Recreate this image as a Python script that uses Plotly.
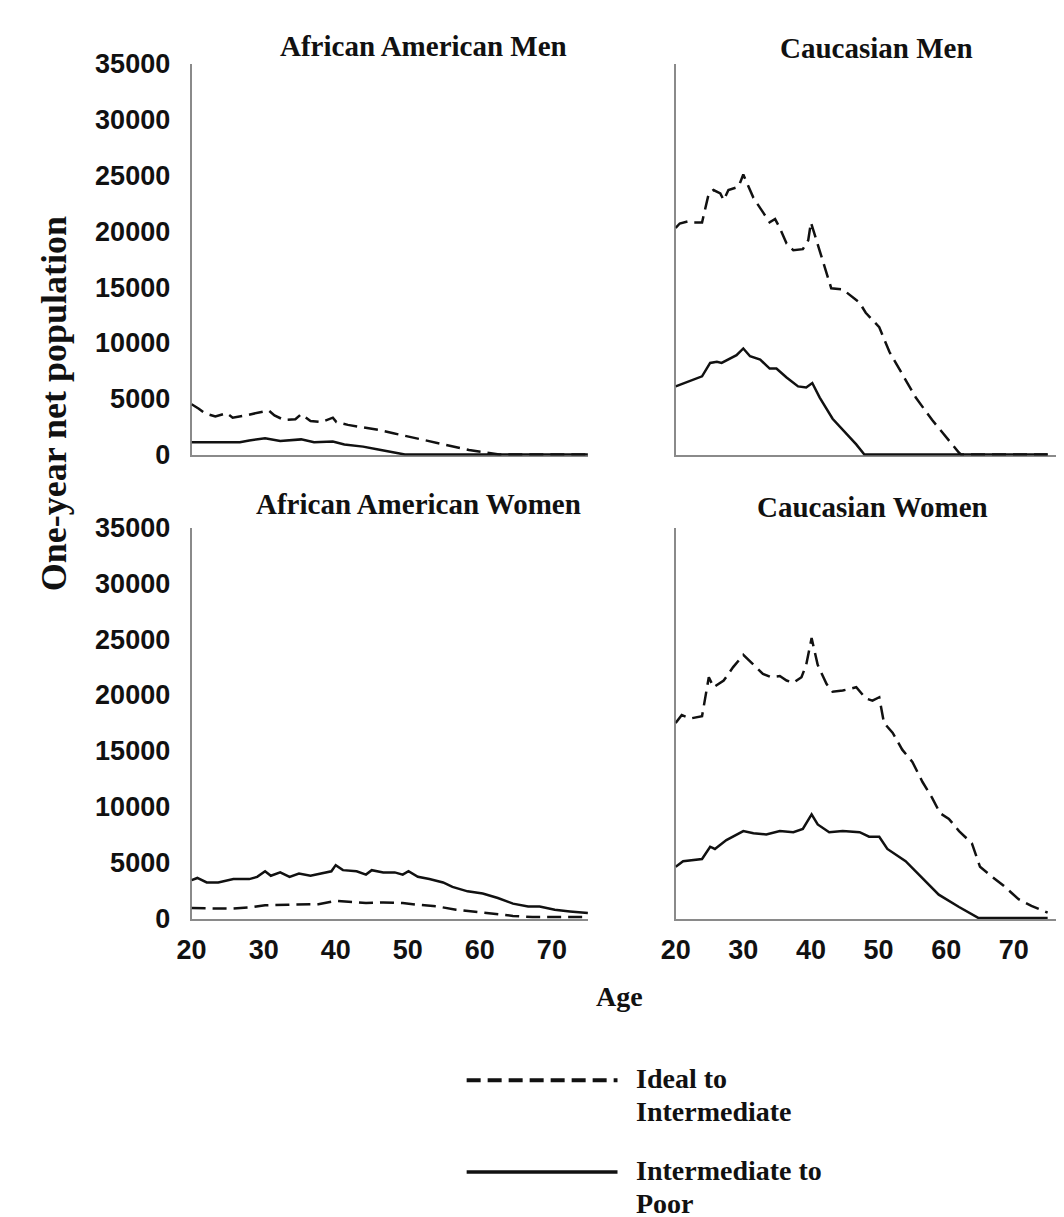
import plotly.graph_objects as go

W, H = 1064, 1217

# ---------------- data (ages, one-year net population) ----------------
aam_ideal_age = [20, 21, 21.8, 23.3, 24.9, 25.7, 27.5, 29.1, 30.7, 31.5, 32.8, 34.4, 35.2, 36.5, 38.0, 39.6, 40.1,
                 41.7, 43.8, 45.9, 48.0, 50.1, 52.2, 54.3, 56.4, 58.5, 60.6, 62.7, 75]
aam_ideal_val = [4500, 4100, 3700, 3400, 3700, 3300, 3500, 3700, 3950, 3500, 3100, 3150, 3600, 3000, 2900, 3300, 2900,
                 2650, 2450, 2200, 1900, 1600, 1300, 1050, 750, 400, 200, 0, 0]
aam_poor_age = [20, 26.7, 28.0, 30.2, 32.3, 35.2, 37.0, 39.6, 41.2, 43.8, 45.9, 48.5, 49.6, 75]
aam_poor_val = [1100, 1100, 1250, 1450, 1200, 1350, 1100, 1150, 900, 700, 450, 100, 0, 0]

cm_ideal_age = [20, 20.6, 21.9, 22.6, 23.9, 24.9, 25.6, 26.6, 27.1, 27.8, 29.3, 30, 30.7, 31.5, 32.7, 33.9, 34.7,
                35.4, 36.4, 37.4, 38.8, 39.6, 40.0, 40.8, 41.8, 43.0, 44.7, 47.2, 48.1, 49.6, 50.1, 51.6, 53.5,
                55.5, 57.9, 59.9, 61.9, 62.2, 75]
cm_ideal_val = [20300, 20700, 20900, 20800, 20800, 23400, 23700, 23400, 22800, 23700, 24000, 25100, 24100, 23000,
                21900, 20800, 21100, 20300, 18900, 18300, 18400, 19200, 20800, 19200, 17100, 14900, 14800, 13600,
                12700, 11700, 11400, 9200, 7200, 5100, 3100, 1600, 150, 0, 0]
cm_poor_age = [20, 22.2, 23.9, 25.1, 26.1, 26.8, 27.8, 29.0, 30, 31, 32.5, 33.9, 34.9, 36.4, 38.1, 39.3, 40.2,
               41.3, 43.2, 45.2, 46.7, 47.9, 75]
cm_poor_val = [6100, 6600, 7000, 8200, 8300, 8200, 8500, 8900, 9500, 8800, 8500, 7700, 7700, 6900, 6100, 6000,
               6400, 5100, 3200, 1900, 900, 0, 0]

aaw_ideal_age = [20, 25.3, 28.0, 30.2, 33.4, 37.6, 40.0, 42.4, 44.2, 46.6, 49.3, 51.4, 54.1, 56.7, 59.4, 62.0,
                 64.6, 67.3, 75]
aaw_ideal_val = [900, 850, 950, 1150, 1200, 1250, 1550, 1400, 1350, 1400, 1350, 1200, 1050, 750, 550, 400, 200,
                 100, 100]
aaw_poor_age = [20, 20.8, 22.1, 23.7, 25.8, 28.0, 29.1, 30.2, 31.0, 32.3, 33.6, 34.9, 36.5, 38.6, 39.4, 40.0,
                41.0, 42.9, 44.2, 45.0, 46.6, 48.2, 49.3, 50.1, 51.4, 53.0, 54.9, 56.2, 58.3, 60.4, 62.5, 64.6,
                66.7, 68.3, 70.4, 72.5, 75]
aaw_poor_val = [3400, 3600, 3200, 3200, 3500, 3500, 3700, 4200, 3800, 4100, 3700, 4000, 3800, 4100, 4200, 4750,
                4300, 4200, 3900, 4300, 4100, 4100, 3900, 4200, 3700, 3500, 3200, 2800, 2400, 2200, 1800, 1300,
                1050, 1050, 750, 600, 450]

cw_ideal_age = [20, 20.9, 22.2, 23.9, 24.9, 25.6, 27.1, 28.5, 30, 31.5, 32.9, 34.1, 35.4, 36.4, 37.4, 38.6, 39.3,
                40.1, 41.0, 42.3, 43.2, 44.7, 46.7, 48.1, 49.1, 50.1, 50.8, 52.1, 53.5, 55.0, 56.5, 57.9, 59.1,
                60.4, 61.9, 63.8, 65.0, 66.8, 68.5, 70.7, 72.6, 75]
cw_ideal_val = [17500, 18200, 17900, 18100, 21600, 20700, 21300, 22500, 23600, 22700, 21900, 21600, 21700, 21300,
                21100, 21600, 22700, 25100, 22700, 21000, 20300, 20400, 20700, 19700, 19500, 19800, 17500, 16600,
                15100, 14000, 12200, 10800, 9400, 8900, 7800, 6700, 4600, 3700, 2900, 1700, 1100, 500]
cw_poor_age = [20, 21.1, 23.9, 25.1, 25.8, 27.5, 30, 31.5, 33.4, 35.4, 37.4, 38.8, 40.1, 41.0, 42.7, 44.7, 47.2,
               48.6, 50.1, 51.3, 54.0, 56.5, 58.9, 61.9, 64.8, 75]
cw_poor_val = [4600, 5100, 5300, 6400, 6200, 7000, 7800, 7600, 7500, 7800, 7700, 8000, 9300, 8400, 7700, 7800,
               7700, 7300, 7300, 6200, 5100, 3600, 2100, 1000, 0, 0]

panel_titles = ["African American Men", "Caucasian Men", "African American Women", "Caucasian Women"]
y_ticks = [0, 5000, 10000, 15000, 20000, 25000, 30000, 35000]
x_ticks = [20, 30, 40, 50, 60, 70]
legend_lines = [["Ideal to", "Intermediate"], ["Intermediate to", "Poor"]]

# ---------------- figure ----------------
fig = go.Figure()
LINE_COLOR = "#111111"
DASH = "14px,7px"

panels = [
    ("x", "y", aam_ideal_age, aam_ideal_val, aam_poor_age, aam_poor_val),
    ("x2", "y2", cm_ideal_age, cm_ideal_val, cm_poor_age, cm_poor_val),
    ("x3", "y3", aaw_ideal_age, aaw_ideal_val, aaw_poor_age, aaw_poor_val),
    ("x4", "y4", cw_ideal_age, cw_ideal_val, cw_poor_age, cw_poor_val),
]
for xa, ya, ia, iv, pa, pv in panels:
    fig.add_trace(go.Scatter(x=ia, y=iv, xaxis=xa, yaxis=ya, mode="lines", showlegend=False,
                             name="Ideal to Intermediate",
                             line=dict(color=LINE_COLOR, width=2.5, dash=DASH)))
    fig.add_trace(go.Scatter(x=pa, y=pv, xaxis=xa, yaxis=ya, mode="lines", showlegend=False,
                             name="Intermediate to Poor",
                             line=dict(color=LINE_COLOR, width=2.5)))

def px_x(p):
    return p / W

def px_y(p):
    return 1 - p / H

tick_font = dict(family="Liberation Sans, Arial", size=27, color="#111111", weight="bold")
AXCOL = "#8a8a8a"

left_dom = [px_x(171), px_x(573)]
right_dom = [px_x(662), 1.0]
top_dom = [px_y(443), px_y(42)]
bot_dom = [px_y(918), px_y(517)]
yr = [-90, 35000]

common_x = dict(showline=True, linecolor=AXCOL, linewidth=2, showgrid=False, zeroline=False,
                ticks="", layer="below traces", tickfont=tick_font, tickvals=x_ticks,
                ticklabelstandoff=5)
common_y = dict(showline=True, linecolor=AXCOL, linewidth=2, showgrid=False, zeroline=False,
                ticks="", layer="below traces", tickfont=tick_font, tickvals=y_ticks, range=yr,
                tickformat="d", ticklabelstandoff=14)

fig.update_layout(
    width=W, height=H,
    margin=dict(l=0, r=0, t=0, b=0),
    paper_bgcolor="white", plot_bgcolor="white",
    showlegend=False,
    xaxis=dict(domain=left_dom, range=[20, 75], anchor="y", showticklabels=False, **common_x),
    xaxis2=dict(domain=right_dom, range=[20, 78.6], anchor="y2", showticklabels=False, **common_x),
    xaxis3=dict(domain=left_dom, range=[20, 75], anchor="y3", showticklabels=True, **common_x),
    xaxis4=dict(domain=right_dom, range=[20, 78.6], anchor="y4", showticklabels=True, **common_x),
    yaxis=dict(domain=top_dom, anchor="x", showticklabels=True, **common_y),
    yaxis2=dict(domain=top_dom, anchor="x2", showticklabels=False, **common_y),
    yaxis3=dict(domain=bot_dom, anchor="x3", showticklabels=True, **common_y),
    yaxis4=dict(domain=bot_dom, anchor="x4", showticklabels=False, **common_y),
)

serif = "Liberation Serif, Times New Roman, serif"
ann = []
title_pos = [(406, 24), (866, 26), (401, 493), (862, 496)]
for t, (cx, cy) in zip(panel_titles, title_pos):
    ann.append(dict(text=f"<b>{t}</b>", x=px_x(cx), y=px_y(cy), xref="paper", yref="paper",
                    xanchor="center", yanchor="middle", showarrow=False,
                    font=dict(family=serif, size=29, color="#111111")))
# y-axis title
ann.append(dict(text="<b>One-year net population</b>", x=px_x(31), y=px_y(390), xref="paper", yref="paper",
                xanchor="center", yanchor="middle", showarrow=False, textangle=-90,
                font=dict(family=serif, size=36, color="#111111")))
# x-axis title
ann.append(dict(text="<b>Age</b>", x=px_x(605), y=px_y(997), xref="paper", yref="paper",
                xanchor="center", yanchor="middle", showarrow=False,
                font=dict(family=serif, size=28, color="#111111")))

# legend (drawn manually to match the long line samples)
legend_rows = [(1083, DASH, 4, legend_lines[0]), (1177, "solid", 3.5, legend_lines[1])]
shapes = []
for ly, dash, lw, lines in legend_rows:
    shapes.append(dict(type="line", xref="paper", yref="paper", x0=px_x(450), x1=px_x(603),
                       y0=px_y(ly), y1=px_y(ly), line=dict(color=LINE_COLOR, width=lw, dash=dash)))
    for k, txt in enumerate(lines):
        ann.append(dict(text=f"<b>{txt}</b>", x=px_x(620), y=px_y(ly - 2 + 34 * k), xref="paper",
                        yref="paper", xanchor="left", yanchor="middle", align="left", showarrow=False,
                        font=dict(family=serif, size=28, color="#111111")))

fig.update_layout(annotations=ann, shapes=shapes)

fig.write_html("out.html")
